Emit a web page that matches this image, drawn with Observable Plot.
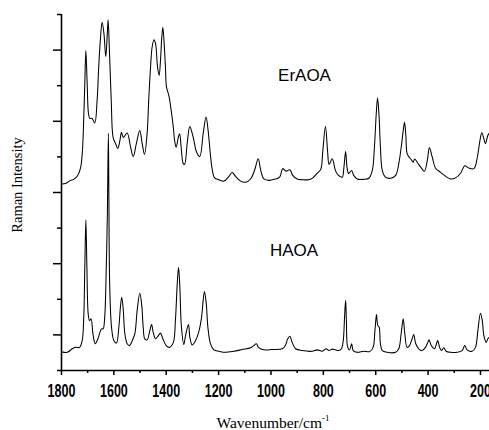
<!DOCTYPE html>
<html>
<head>
<meta charset="utf-8">
<script src="https://cdn.jsdelivr.net/npm/d3@7"></script>
<script src="https://cdn.jsdelivr.net/npm/@observablehq/plot@0.6"></script>
<style>
  html, body { margin: 0; padding: 0; background: #fff; }
  #chart { width: 489px; height: 430px; }
</style>
</head>
<body>
<div id="chart"></div>
<script>
// ErAOA spectrum: [wavenumber (cm-1), intensity (arb. units)]
const erAOA = [
  [1800,5.24],[1785,5.25],[1766,5.34],[1753,5.37],[1738,5.48],[1727,5.70],[1720,6.18],[1715,7.11],[1711,8.06],[1707,8.99],
  [1702,8.06],[1697,7.22],[1692,7.08],[1683,7.08],[1673,6.95],[1664,7.58],[1658,8.51],[1651,9.35],[1645,9.78],[1638,9.47],
  [1631,8.82],[1625,9.47],[1622,9.85],[1617,8.99],[1610,7.58],[1603,6.55],[1594,6.38],[1585,6.24],[1577,6.46],[1571,6.69],
  [1564,6.54],[1558,6.60],[1549,6.67],[1536,6.27],[1526,6.01],[1514,6.38],[1501,6.74],[1492,6.38],[1483,6.07],[1473,6.66],
  [1467,7.58],[1460,8.51],[1454,9.08],[1447,9.29],[1441,9.19],[1433,8.51],[1427,8.29],[1422,8.71],[1417,9.36],[1413,9.64],
  [1408,9.19],[1403,8.51],[1399,7.96],[1390,7.72],[1381,7.30],[1373,6.83],[1368,6.46],[1362,6.27],[1354,6.55],[1349,6.65],
  [1343,6.27],[1335,5.81],[1330,5.79],[1320,6.38],[1310,6.85],[1297,6.55],[1284,6.13],[1272,6.01],[1259,6.65],[1248,7.12],
  [1241,6.80],[1231,6.04],[1225,5.67],[1215,5.41],[1199,5.36],[1180,5.32],[1163,5.43],[1148,5.56],[1135,5.45],[1116,5.32],
  [1097,5.29],[1078,5.38],[1062,5.64],[1049,5.95],[1039,5.62],[1027,5.38],[1008,5.34],[983,5.38],[967,5.43],[955,5.67],
  [942,5.60],[928,5.64],[917,5.48],[900,5.38],[881,5.36],[856,5.36],[840,5.41],[824,5.54],[810,5.65],[802,6.18],
  [792,6.86],[784,6.18],[778,5.79],[766,5.95],[754,5.62],[745,5.50],[728,5.43],[722,5.67],[715,6.15],[709,5.67],
  [703,5.53],[692,5.62],[684,5.48],[671,5.38],[645,5.37],[626,5.40],[613,5.62],[605,6.27],[598,7.21],[593,7.66],
  [587,7.12],[582,6.27],[575,5.62],[563,5.43],[543,5.40],[524,5.48],[512,5.81],[501,6.37],[495,6.74],[490,6.97],
  [485,6.60],[480,6.09],[472,5.99],[464,5.92],[457,5.85],[451,5.94],[439,5.82],[426,5.69],[414,5.60],[403,5.90],
  [395,6.26],[384,5.99],[372,5.69],[353,5.57],[334,5.46],[314,5.38],[295,5.41],[276,5.54],[260,5.75],[245,5.69],
  [225,5.67],[212,5.99],[202,6.46],[195,6.68],[187,6.51],[181,6.37],[172,6.60],[166,6.67]
];

// HAOA spectrum: [wavenumber (cm-1), intensity (arb. units)]
const hAOA = [
  [1800,0.53],[1778,0.51],[1759,0.61],[1747,0.65],[1731,0.65],[1721,0.84],[1715,1.50],[1711,2.90],[1707,4.23],[1703,2.90],
  [1698,1.59],[1693,1.40],[1687,1.45],[1680,1.03],[1671,0.75],[1661,0.89],[1651,1.12],[1647,1.17],[1641,1.17],[1635,1.50],
  [1629,2.90],[1625,4.31],[1621,6.66],[1619,4.78],[1616,2.44],[1609,1.22],[1600,0.84],[1590,0.77],[1581,1.22],[1575,1.78],
  [1570,2.06],[1564,1.69],[1558,1.03],[1549,0.75],[1540,0.70],[1530,0.84],[1520,1.03],[1511,1.69],[1501,2.17],[1494,1.87],
  [1488,1.22],[1482,0.89],[1473,0.86],[1464,1.08],[1456,1.29],[1450,1.08],[1441,0.89],[1432,0.96],[1422,1.05],[1413,0.89],
  [1400,0.70],[1388,0.65],[1373,0.79],[1365,1.40],[1358,2.44],[1353,2.90],[1348,2.34],[1342,1.22],[1333,0.73],[1325,1.03],
  [1315,1.29],[1310,0.94],[1301,0.72],[1288,0.84],[1276,1.08],[1265,1.50],[1259,1.97],[1254,2.22],[1247,1.87],[1241,1.22],
  [1231,0.75],[1218,0.58],[1199,0.54],[1174,0.51],[1142,0.54],[1110,0.59],[1078,0.64],[1066,0.70],[1056,0.75],[1047,0.64],
  [1027,0.58],[995,0.59],[957,0.61],[945,0.70],[936,0.89],[928,0.96],[919,0.79],[906,0.61],[881,0.56],[843,0.54],
  [824,0.58],[804,0.54],[789,0.61],[779,0.56],[766,0.60],[754,0.58],[741,0.56],[731,0.61],[724,0.84],[719,1.50],
  [715,1.97],[712,1.40],[707,0.65],[700,0.58],[692,0.75],[686,0.56],[671,0.51],[645,0.54],[623,0.53],[610,0.65],
  [603,1.12],[597,1.57],[592,1.26],[587,1.22],[582,0.75],[575,0.56],[556,0.51],[524,0.51],[512,0.61],[503,1.03],
  [495,1.45],[489,1.03],[480,0.65],[471,0.70],[461,0.89],[455,1.01],[447,0.75],[436,0.61],[423,0.56],[410,0.65],
  [401,0.79],[396,0.86],[388,0.70],[375,0.61],[368,0.75],[363,0.84],[356,0.65],[349,0.56],[340,0.64],[331,0.54],
  [314,0.51],[289,0.51],[270,0.56],[260,0.70],[251,0.58],[232,0.54],[219,0.65],[210,1.12],[200,1.61],[193,1.40],
  [187,0.98],[178,0.79],[172,0.89],[166,0.94]
];

const xMajorTicks = [1800, 1600, 1400, 1200, 1000, 800, 600, 400, 200];
const xMinorTicks = [1700, 1500, 1300, 1100, 900, 700, 500, 300];
const yMajorTicks = [1, 3, 5, 7, 9];
const yMinorTicks = [0, 2, 4, 6, 8, 10];

const sampleNames = ["ErAOA", "HAOA"];
const sampleNameWavenumber = [872, 912];
const sampleNameIntensity = [8.29, 3.37];

const xTitle = "Wavenumber/cm";
const xTitleSup = "-1";
const yTitle = "Raman Intensity";

const er = erAOA.map(([w, v]) => ({w, v}));
const ha = hAOA.map(([w, v]) => ({w, v}));
const names = sampleNames.map((t, i) => ({t, w: sampleNameWavenumber[i], v: sampleNameIntensity[i]}));
const noText = () => "";

const plot = Plot.plot({
  width: 489,
  height: 430,
  marginLeft: 61,
  marginRight: 0,
  marginTop: 14,
  marginBottom: 60,
  style: {background: "#fff", color: "#000", overflow: "visible"},
  x: {domain: [1800, 165.5], axis: null},
  y: {domain: [0, 10], axis: null},
  marks: [
    Plot.line(er, {x: "w", y: "v", stroke: "#000", strokeWidth: 1.05, curve: "catmull-rom"}),
    Plot.line(ha, {x: "w", y: "v", stroke: "#000", strokeWidth: 1.05, curve: "catmull-rom"}),
    Plot.ruleX([1800], {stroke: "#000", strokeWidth: 1.6}),
    Plot.ruleY([0], {stroke: "#000", strokeWidth: 1.6}),
    Plot.axisY(yMajorTicks, {anchor: "left", tickSize: 8, strokeWidth: 1.5, tickFormat: noText, label: null}),
    Plot.axisY(yMinorTicks, {anchor: "left", tickSize: 4, strokeWidth: 1.5, tickFormat: noText, label: null}),
    Plot.axisX(xMinorTicks, {anchor: "bottom", tickSize: 3, strokeWidth: 1.5, tickFormat: noText, label: null}),
    Plot.axisX(xMajorTicks, {anchor: "bottom", tickSize: 5, tickPadding: 8, strokeWidth: 1.5,
      fontSize: 12.5, fontWeight: "bold", fontFamily: "'Liberation Sans', Arial, sans-serif",
      tickFormat: (d) => String(d), label: null}),
    Plot.text(names, {x: "w", y: "v", text: "t", fontSize: 17,
      fontFamily: "'Liberation Sans', Arial, sans-serif", fill: "#000"})
  ]
});

document.getElementById("chart").appendChild(plot);

// Tall, narrow tick labels as in the reference
const svg = d3.select(plot);
svg.selectAll("g[aria-label='x-axis tick label'] text").each(function () {
  const t = d3.select(this);
  if (t.text() !== "") t.attr("transform", (t.attr("transform") || "") + " scale(1,1.5)");
});

// Axis titles
const serif = "'Liberation Serif', 'Times New Roman', serif";
const xs = plot.scale("x");
const xCenter = (xs.range[0] + xs.range[1]) / 2;
const xt = svg.append("text")
  .attr("x", xCenter - 2)
  .attr("y", 428)
  .attr("text-anchor", "middle")
  .attr("font-family", serif)
  .attr("font-size", 15.5)
  .attr("fill", "#000")
  .text(xTitle);
xt.append("tspan").attr("dy", -7).attr("font-size", 9).text(xTitleSup);

svg.append("text")
  .attr("transform", "translate(22,185) rotate(-90)")
  .attr("text-anchor", "middle")
  .attr("font-family", serif)
  .attr("font-size", 14.5)
  .attr("fill", "#000")
  .text(yTitle);
</script>
</body>
</html>
